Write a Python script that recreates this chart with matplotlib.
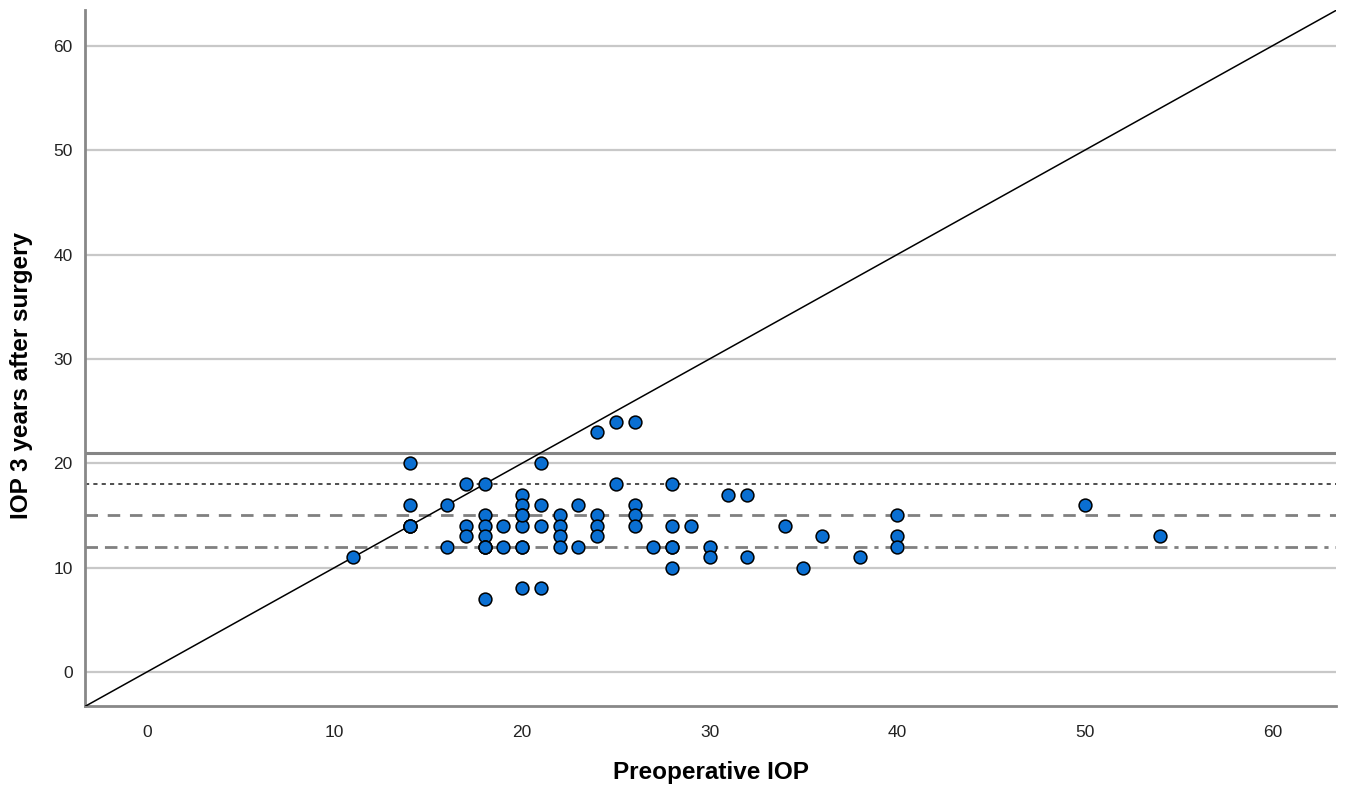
import matplotlib
matplotlib.use("Agg")
import matplotlib.pyplot as plt
import numpy as np

plt.rcParams['font.family'] = ['Liberation Sans', 'DejaVu Sans']

# preoperative IOP and IOP 3 years after surgery
pre_iop = [11, 14, 14, 14, 14, 16, 16, 17, 17, 17, 18, 18, 18, 18, 18, 18, 18,
           19, 19, 20, 20, 20, 20, 20, 20, 20, 21, 21, 21, 21, 22, 22, 22, 22,
           23, 23, 24, 24, 24, 24, 25, 25, 26, 26, 26, 26, 27, 28, 28, 28, 28,
           28, 29, 30, 30, 31, 32, 32, 34, 35, 36, 38, 40, 40, 40, 50, 54,
           14, 18, 20]
post_iop = [11, 20, 16, 14, 14, 16, 12, 18, 14, 13, 18, 15, 14, 13, 12, 12, 7,
            14, 12, 17, 16, 15, 14, 12, 8, 12, 20, 16, 14, 8, 15, 14, 13, 12,
            16, 12, 23, 15, 14, 13, 24, 18, 24, 16, 15, 14, 12, 18, 14, 12, 10,
            12, 14, 12, 11, 17, 17, 11, 14, 10, 13, 11, 15, 13, 12, 16, 13,
            14, 12, 15]

y_ticks = [0, 10, 20, 30, 40, 50, 60]
x_ticks = [0, 10, 20, 30, 40, 50, 60]
ref_levels = [21, 18, 15, 12]

fig = plt.figure(figsize=(13.46, 7.91), dpi=100)
ax = fig.add_axes([0.0632, 0.1075, 0.9294, 0.88])

lo, hi = -3.3, 63.4
ax.set_xlim(lo, hi)
ax.set_ylim(-3.26, 63.45)

# gridlines
for t in y_ticks:
    ax.axhline(t, color='#c8c8c8', lw=1.6, zorder=1)

# reference lines
ax.axhline(ref_levels[0], color='#858585', lw=2.2, zorder=2)
ax.axhline(ref_levels[1], color='#303030', lw=1.2, linestyle=(0, (2.5, 2.5)), zorder=2)
ax.axhline(ref_levels[2], color='#808080', lw=2.0, linestyle=(0, (4.5, 3.5)), zorder=2)
ax.axhline(ref_levels[3], color='#808080', lw=2.0,
           linestyle=(0, (4.5, 2.5, 4.5, 2.5, 1.5, 2.5)), zorder=2)

# identity line
ax.plot([lo, hi], [lo, hi], color='black', lw=1.1, zorder=3)

ax.scatter(pre_iop, post_iop, s=85, color='#0a6fd2', edgecolors='black',
           linewidths=1.1, zorder=4)

ax.set_xticks(x_ticks)
ax.set_yticks(y_ticks)
ax.tick_params(axis='both', length=0, labelsize=12.5, colors='#222222')
ax.tick_params(axis='x', pad=14)
ax.tick_params(axis='y', pad=9)

for s in ['top', 'right']:
    ax.spines[s].set_visible(False)
for s in ['left', 'bottom']:
    ax.spines[s].set_color('#888888')
    ax.spines[s].set_linewidth(2)

ax.set_xlabel('Preoperative IOP', fontsize=17.5, fontweight='bold', labelpad=15)
ax.set_ylabel('IOP 3 years after surgery', fontsize=17.5, fontweight='bold')
ax.yaxis.set_label_coords(-0.0416, 0.475)

fig.savefig('out.png', dpi=100)
